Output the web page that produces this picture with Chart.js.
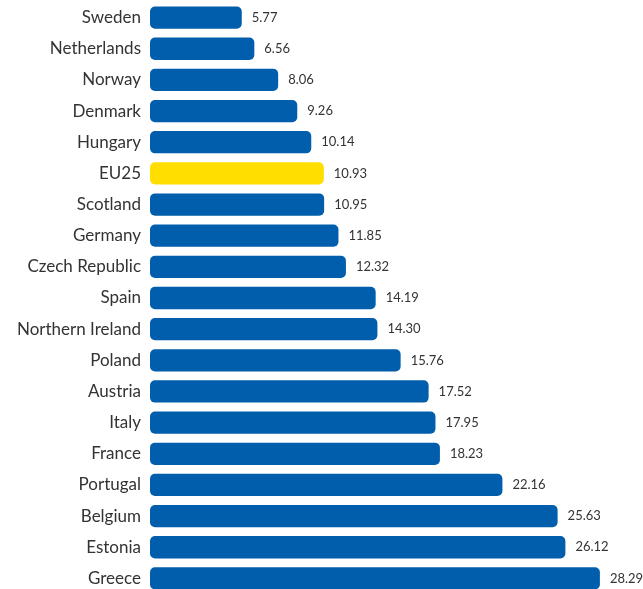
<!DOCTYPE html>
<html>
<head>
<meta charset="utf-8">
<script src="https://cdn.jsdelivr.net/npm/chart.js@4"></script>
<style>
  html, body { margin: 0; padding: 0; background: #fff; overflow: hidden; }
  #wrap { position: relative; width: 643px; height: 595px; }
</style>
</head>
<body>
<div id="wrap"><canvas id="c"></canvas></div>
<script>
const countries = ["Sweden", "Netherlands", "Norway", "Denmark", "Hungary", "EU25", "Scotland",
  "Germany", "Czech Republic", "Spain", "Northern Ireland", "Poland", "Austria", "Italy",
  "France", "Portugal", "Belgium", "Estonia", "Greece"];
const values = [5.77, 6.56, 8.06, 9.26, 10.14, 10.93, 10.95, 11.85, 12.32, 14.19, 14.30,
  15.76, 17.52, 17.95, 18.23, 22.16, 25.63, 26.12, 28.29];
const highlight = "EU25";

const BLUE = "#005eac";
const YELLOW = "#ffde00";
const TEXT = "#333333";
const FONT = "Lato, 'Open Sans', sans-serif";

const valueLabels = {
  id: "valueLabels",
  afterDatasetsDraw(chart) {
    const ctx = chart.ctx;
    const meta = chart.getDatasetMeta(0);
    ctx.save();
    ctx.font = "13px " + FONT;
    ctx.fillStyle = TEXT;
    ctx.textAlign = "left";
    ctx.textBaseline = "middle";
    meta.data.forEach((bar, i) => {
      ctx.fillText(values[i].toFixed(2), bar.x + 10, bar.y);
    });
    ctx.restore();
  }
};

new Chart(document.getElementById("c"), {
  type: "bar",
  data: {
    labels: countries,
    datasets: [{
      data: values,
      backgroundColor: countries.map(c => c === highlight ? YELLOW : BLUE),
      borderRadius: 5,
      borderSkipped: false,
      barPercentage: 0.715,
      categoryPercentage: 1
    }]
  },
  options: {
    indexAxis: "y",
    responsive: true,
    maintainAspectRatio: false,
    animation: false,
    layout: { padding: { top: 2, bottom: 1, left: 0, right: 0 } },
    plugins: { legend: { display: false }, tooltip: { enabled: false } },
    scales: {
      x: { display: false, min: 0, max: 31 },
      y: {
        afterFit(scale) {
          scale.width = 150;
          scale.paddingTop = 0;
          scale.paddingBottom = 0;
        },
        grid: { display: false, drawTicks: false },
        border: { display: false },
        ticks: { color: TEXT, font: { family: FONT, size: 17 }, padding: 9 }
      }
    }
  },
  plugins: [valueLabels]
});
</script>
</body>
</html>
